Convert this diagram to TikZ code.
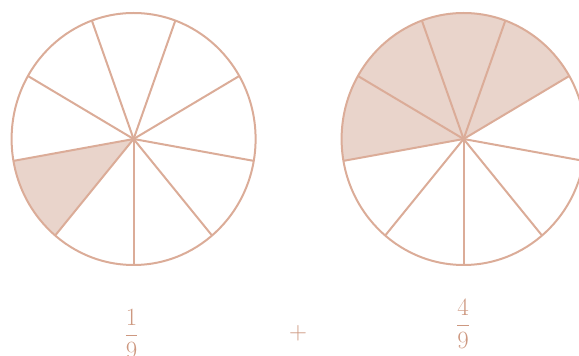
\documentclass[tikz,border=0pt]{standalone}
\usepackage{amsmath}
\usepackage{tikz}
\usetikzlibrary{positioning}

\definecolor{pielines}{RGB}{219,172,152}
\definecolor{slicefill}{RGB}{233,212,203}
\definecolor{fractext}{RGB}{205,152,128}

\begin{document}
\begin{tikzpicture}[x=1pt, y=1pt, every node/.style={text=fractext, inner sep=0pt, font=\fontsize{29}{34}\selectfont}, slice/.style={fill=slicefill}, rim/.style={draw=pielines, line width=2pt}]
        \useasboundingbox (0,0) rectangle (579,356);

        \coordinate (lpie) at (133.6,217);
        \coordinate (rpie) at (463.6,217);

        % shaded parts
        \fill[slice] (lpie) -- ++(190:122 and 126) arc[start angle=190, end angle=230, x radius=122, y radius=126] -- cycle;
        \fill[slice] (rpie) -- ++(30:122 and 126) arc[start angle=30, end angle=190, x radius=122, y radius=126] -- cycle;

        % rims and spokes
        \foreach \pie in {lpie, rpie} {
            \draw[rim] (\pie) ellipse[x radius=122, y radius=126];
            \foreach \a in {270, 310, 350, 30, 70, 110, 150, 190, 230}
                \draw[rim] (\pie) -- ++(\a:122 and 126);
        }

        \node (lfrac) at (131.7,22) {$\dfrac{1}{9}$};
        \node (plus) at (298,23) {$+$};
        \node (rfrac) at (463,32) {$\dfrac{4}{9}$};
    \end{tikzpicture}
\end{document}
